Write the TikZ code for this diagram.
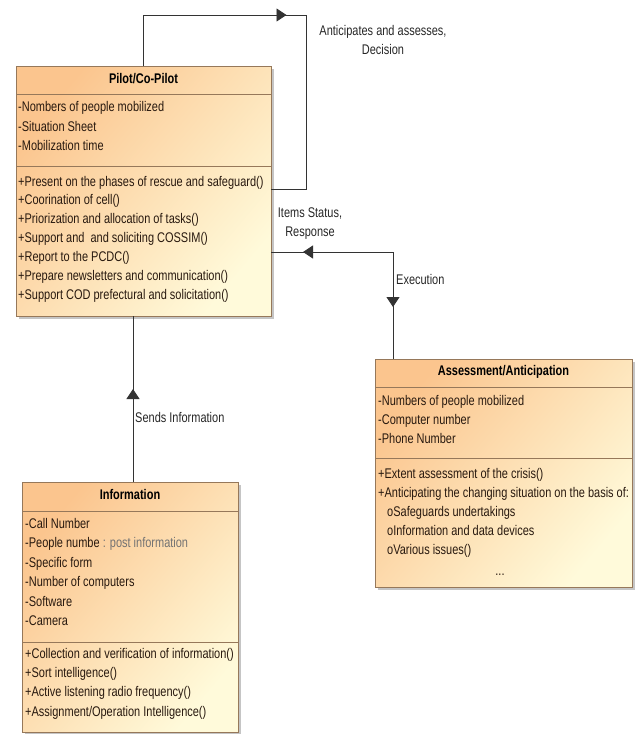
\documentclass[tikz,border=0pt]{standalone}
\usepackage{fontspec}
\setmainfont[FakeStretch=0.785]{Liberation Sans}
\usepackage{tikz}
\usetikzlibrary{arrows.meta,decorations.markings,shadows}
\definecolor{umlorange}{RGB}{251,197,142}
\definecolor{umlyellow}{RGB}{255,250,218}
\definecolor{umlborder}{RGB}{150,120,90}
\definecolor{umltext}{RGB}{40,25,15}
\tikzset{
  umlbox/.style={draw=umlborder,line width=0.9pt,inner sep=0pt,outer sep=0pt,
    top color=umlorange,bottom color=umlyellow,shading angle=50,
    drop shadow={shadow xshift=2.5pt,shadow yshift=-2.5pt,fill=black!45}},
  umlsep/.style={draw=umlborder,line width=0.9pt},
  member/.style={anchor=west,inner sep=0pt,text height=10pt,text depth=3pt,
    font=\fontsize{14}{19}\selectfont,text=umltext},
  classname/.style={inner sep=0pt,text height=10pt,text depth=3pt,
    font=\fontsize{14}{19}\selectfont\bfseries},
  lbl/.style={inner sep=0pt,font=\fontsize{14}{19}\selectfont,text=black!85},
  conn/.style={draw=black!80,line width=0.8pt},
  tri/.tip={Triangle[length=10pt,width=13pt]}
}
\begin{document}
\begin{tikzpicture}[x=1pt,y=-1pt]
\useasboundingbox (0,0) rectangle (635,734);

\node[umlbox,minimum width=255pt,minimum height=250pt] (pilot) at (143.5,191) {};
\draw[umlsep] (pilot.west |- 0,94) -- (pilot.east |- 0,94);
\draw[umlsep] (pilot.west |- 0,166) -- (pilot.east |- 0,166);
\node[classname] (pilotname) at (143.5,80) {Pilot/Co-Pilot};
\node[member] (pilotatt1) at (18,108) {-Nombers of people mobilized};
\node[member] (pilotatt2) at (18,128) {-Situation Sheet};
\node[member] (pilotatt3) at (18,147) {-Mobilization time};
\node[member] (pilotop1) at (18,183) {+Present on the phases of rescue and safeguard()};
\node[member] (pilotop2) at (18,201) {+Coorination of cell()};
\node[member] (pilotop3) at (18,220) {+Priorization and allocation of tasks()};
\node[member] (pilotop4) at (18,239) {+Support and~ and soliciting COSSIM()};
\node[member] (pilotop5) at (18,258) {+Report to the PCDC()};
\node[member] (pilotop6) at (18,277) {+Prepare newsletters and communication()};
\node[member] (pilotop7) at (18,296) {+Support COD prefectural and solicitation()};

\node[umlbox,minimum width=257pt,minimum height=228pt] (assess) at (503.5,473) {};
\draw[umlsep] (assess.west |- 0,387) -- (assess.east |- 0,387);
\draw[umlsep] (assess.west |- 0,458) -- (assess.east |- 0,458);
\node[classname] (assessname) at (503.5,372) {Assessment/Anticipation};
\node[member] (assessatt1) at (378,402) {-Numbers of people mobilized};
\node[member] (assessatt2) at (378,421) {-Computer number};
\node[member] (assessatt3) at (378,440) {-Phone Number};
\node[member] (assessop1) at (378,475) {+Extent assessment of the crisis()};
\node[member] (assessop2) at (378,494) {+Anticipating the changing situation on the basis of:};
\node[member] (assessop3) at (387,513) {oSafeguards undertakings};
\node[member] (assessop4) at (387,532) {oInformation and data devices};
\node[member] (assessop5) at (387,551) {oVarious issues()};
\node[member,anchor=center] (assessdots) at (500,572) {...};

\node[umlbox,minimum width=216pt,minimum height=250pt] (info) at (130,607) {};
\draw[umlsep] (info.west |- 0,511) -- (info.east |- 0,511);
\draw[umlsep] (info.west |- 0,642) -- (info.east |- 0,642);
\node[classname] (infoname) at (130,496) {Information};
\node[member] (infoatt1) at (25,525) {-Call Number};
\node[member] (infoatt2) at (25,544) {-People numbe \textcolor{black!55}{: post information}};
\node[member] (infoatt3) at (25,564) {-Specific form};
\node[member] (infoatt4) at (25,583) {-Number of computers};
\node[member] (infoatt5) at (25,603) {-Software};
\node[member] (infoatt6) at (25,622) {-Camera};
\node[member] (infoop1) at (25,655) {+Collection and verification of information()};
\node[member] (infoop2) at (25,674) {+Sort intelligence()};
\node[member] (infoop3) at (25,693) {+Active listening radio frequency()};
\node[member] (infoop4) at (25,713) {+Assignment/Operation Intelligence()};

\coordinate (loopleft) at (143.5,15);
\coordinate (loopright) at (306,15);
\coordinate (corner) at (393,252);
\draw[conn,postaction={decorate},decoration={markings,
  mark=at position 194pt with {\arrow{tri}}}]
  (pilot.north) -- (loopleft) -- (loopright) |- (pilot.east |- 0,189);
\draw[conn,postaction={decorate},decoration={markings,
  mark=at position 32pt with {\arrowreversed{tri}},
  mark=at position 177pt with {\arrow{tri}}}]
  (pilot.east |- corner) -- (corner) -- (assess.north -| corner);
\draw[conn,postaction={decorate},decoration={markings,
  mark=at position 93pt with {\arrow{tri}}}]
  (info.north -| 133,0) -- (pilot.south -| 133,0);

\node[lbl,align=center] (decision) at (383,39.5) {Anticipates and assesses,\\Decision};
\node[lbl,align=center] (status) at (310,224) {Items Status,\\Response};
\node[lbl,anchor=west] (execution) at (396,279) {Execution};
\node[lbl,anchor=west] (sends) at (135,417) {Sends Information};
\end{tikzpicture}
\end{document}
